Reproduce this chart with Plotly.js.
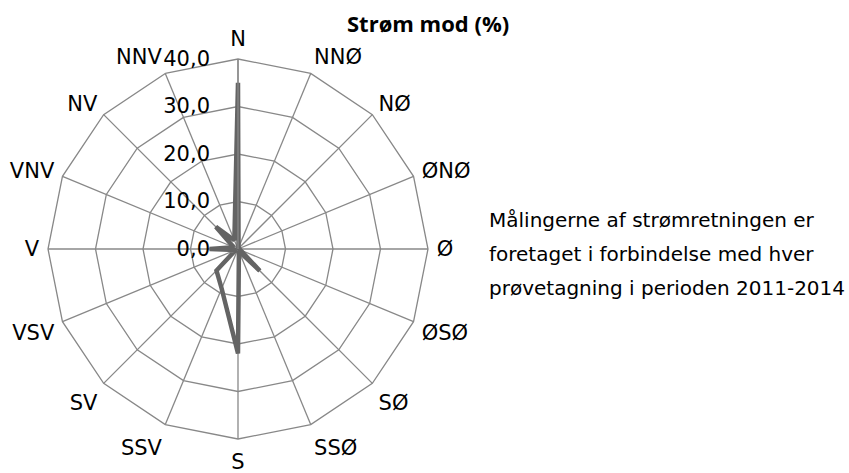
<!DOCTYPE html>
<html>
<head>
<meta charset="utf-8">
<script src="https://cdn.plot.ly/plotly-3.0.1.min.js"></script>
<style>html,body{margin:0;padding:0;background:#fff;}#chart{width:849px;height:473px;}</style>
</head>
<body>
<div id="chart"></div>
<script>
const directions = ["N","NNØ","NØ","ØNØ","Ø","ØSØ","SØ","SSØ","S","SSV","SV","VSV","V","VNV","NV","NNV"];
const stroemMod = [35, 0.3, 0.2, 0.2, 0.3, 0.5, 6.5, 0.5, 22, 9, 6.4, 0.5, 6, 1, 6.6, 2];
const radialTicks = [0, 10, 20, 30, 40];
const chartTitle = "Strøm mod (%)";
const noteLines = ["Målingerne af strømretningen er", "foretaget i forbindelse med hver", "prøvetagning i perioden 2011-2014"];

const W = 849, H = 473;
const cx = 238, cy = 249, R = 190;

const trace = {
  type: "scatterpolar",
  mode: "lines",
  r: stroemMod.concat([stroemMod[0]]),
  theta: directions.concat([directions[0]]),
  line: {color: "#646464", width: 4.5, shape: "linear"},
  hoverinfo: "skip",
  showlegend: false
};

const noteAnns = noteLines.map((t, i) => ({
  text: t, xref: "paper", yref: "paper",
  x: 487 / W, y: 1 - (220 + i * 34) / H,
  xanchor: "left", yanchor: "middle", showarrow: false,
  font: {family: "DejaVu Sans", size: 20, color: "#000"}
}));

const layout = {
  width: W, height: H,
  margin: {l: 0, r: 0, t: 0, b: 0},
  paper_bgcolor: "#fff",
  separators: ", ",
  showlegend: false,
  font: {family: "DejaVu Sans", size: 20, color: "#000"},
  polar: {
    domain: {x: [(cx - R) / W, (cx + R) / W], y: [(H - cy - R) / H, (H - cy + R) / H]},
    gridshape: "linear",
    bgcolor: "#fff",
    radialaxis: {
      range: [0, 40],
      tickvals: radialTicks,
      tickformat: ".1f",
      angle: 90,
      tickangle: 90,
      side: "counterclockwise",
      showline: true,
      linecolor: "#888",
      linewidth: 1.3,
      gridcolor: "#888",
      gridwidth: 1.3,
      ticks: "outside",
      ticklen: 20,
      tickcolor: "rgba(0,0,0,0)",
      tickfont: {family: "DejaVu Sans", size: 21, color: "#000"}
    },
    angularaxis: {
      type: "category",
      categoryarray: directions,
      rotation: 90,
      direction: "clockwise",
      showline: true,
      linecolor: "#888",
      linewidth: 1.3,
      gridcolor: "#888",
      gridwidth: 1.3,
      ticks: "outside",
      ticklen: 4,
      tickcolor: "rgba(0,0,0,0)",
      tickfont: {family: "DejaVu Sans", size: 21, color: "#000"}
    }
  },
  annotations: [{
    text: "<b>" + chartTitle + "</b>", xref: "paper", yref: "paper",
    x: 428 / W, y: 1 - 23 / H, xanchor: "center", yanchor: "middle", showarrow: false,
    font: {family: "Open Sans", size: 22, color: "#000"}
  }].concat(noteAnns)
};

Plotly.newPlot("chart", [trace], layout, {displayModeBar: false, staticPlot: true});
</script>
</body>
</html>
